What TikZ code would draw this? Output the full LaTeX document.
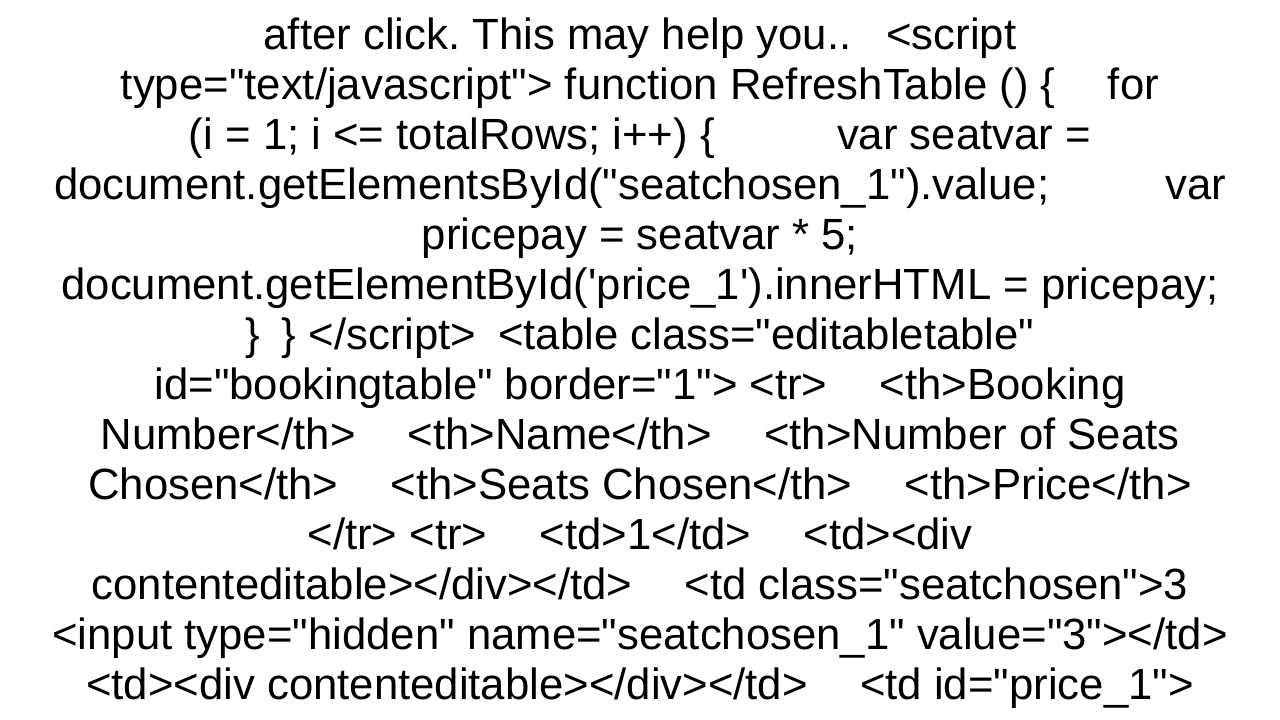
\documentclass[tikz,border=0pt]{standalone}
\usepackage{fontspec}
\setmainfont{Liberation Sans}[Ligatures=TeXOff]
\usetikzlibrary{positioning}
\frenchspacing

\begin{document}
\begin{tikzpicture}[
        x=1pt, y=1pt,
        node distance=0pt,
        ]

        \tikzstyle{line}=[
            inner sep=0pt,
            anchor=base,
            font=\fontsize{43.7}{50}\selectfont
        ]
        \useasboundingbox (0,0) rectangle (1280,-720);
        \node[line] (l1) at (640,-49) {after click. This may help you..\hspace{0.8em}<script};
        \node[line] (l2) at (640,-99) {type="text/javascript"> function RefreshTable () \{\hspace{1.2em}for};
        \node[line] (l3) at (640,-149) {(i = 1; i <= totalRows; i++) \{\hspace{2.8em}var seatvar =};
        \node[line] (l4) at (640,-199) {\makebox[1172pt]{document.getElementsById("seatchosen\_1").value;\hfill var}};
        \node[line] (l5) at (640,-249) {pricepay = seatvar * 5;};
        \node[line] (l6) at (640,-299) {document.getElementById('price\_1').innerHTML = pricepay;};
        \node[line] (l7) at (640,-349) {\}\hspace{0.5em}\} </script>\hspace{0.5em}<table class="editabletable"};
        \node[line] (l8) at (640,-399) {id="bookingtable" border="1"> <tr>\hspace{1.2em}<th>Booking};
        \node[line] (l9) at (640,-449) {Number</th>\hspace{1.2em}<th>Name</th>\hspace{1.2em}<th>Number of Seats};
        \node[line] (l10) at (640,-499) {Chosen</th>\hspace{1.2em}<th>Seats Chosen</th>\hspace{1.2em}<th>Price</th>};
        \node[line] (l11) at (640,-549) {</tr> <tr>\hspace{1.2em}<td>1</td>\hspace{1.2em}<td><div};
        \node[line] (l12) at (640,-599) {contenteditable></div></td>\hspace{1.2em}<td class="seatchosen">3};
        \node[line] (l13) at (640,-649) {<input type="hidden" name="seatchosen\_1" value="3"></td>};
        \node[line] (l14) at (640,-699) {<td><div contenteditable></div></td>\hspace{1.2em}<td id="price\_1">};
    \end{tikzpicture}
\end{document}
